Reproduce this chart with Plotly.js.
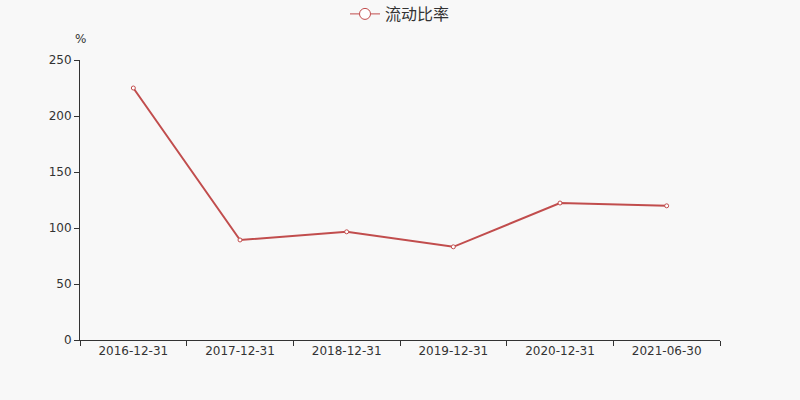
<!DOCTYPE html>
<html>
<head>
<meta charset="utf-8">
<script src="https://cdn.plot.ly/plotly-3.0.1.min.js"></script>
<style>
  html, body { margin: 0; padding: 0; background: #f8f8f8; }
  #chart { width: 800px; height: 400px; }
</style>
</head>
<body>
<div id="chart"></div>
<script>
// report dates and current ratio (%)
var dates = ['2016-12-31', '2017-12-31', '2018-12-31', '2019-12-31', '2020-12-31', '2021-06-30'];
var currentRatio = [225.0, 89.3, 96.6, 83.2, 122.3, 119.8];
var seriesName = '流动比率';

var lineColor = '#c14d4d';

var trace = {
  x: dates,
  y: currentRatio,
  name: seriesName,
  type: 'scatter',
  mode: 'lines+markers',
  showlegend: false,
  line: {color: lineColor, width: 2},
  marker: {symbol: 'circle', size: 4, color: '#ffffff', line: {color: lineColor, width: 1}}
};

// legend entry only, with a bigger hollow circle like the original
var legendTrace = {
  x: [null],
  y: [null],
  name: seriesName,
  type: 'scatter',
  mode: 'lines+markers',
  line: {color: lineColor, width: 1},
  marker: {symbol: 'circle', size: 11, color: '#ffffff', line: {color: lineColor, width: 1}}
};

var axisFont = {family: 'DejaVu Sans, sans-serif', size: 12, color: '#333'};

var layout = {
  width: 800,
  height: 400,
  paper_bgcolor: '#f8f8f8',
  plot_bgcolor: '#f8f8f8',
  margin: {l: 80, r: 80, t: 60, b: 60},
  font: axisFont,
  showlegend: true,
  legend: {
    orientation: 'h',
    x: 0.5, xanchor: 'center',
    xref: 'container',
    y: 0.965, yanchor: 'middle',
    yref: 'container',
    font: {family: 'Noto Sans CJK SC, DejaVu Sans', size: 16, color: '#333'},
    bgcolor: 'rgba(0,0,0,0)'
  },
  xaxis: {
    type: 'category',
    range: [-0.5, 5.5],
    tickson: 'boundaries',
    ticks: 'outside',
    ticklen: 5,
    tickcolor: '#333',
    showline: true,
    linecolor: '#333',
    linewidth: 1,
    showgrid: false,
    zeroline: false,
    tickfont: axisFont,
    fixedrange: true
  },
  yaxis: {
    range: [0, 250],
    dtick: 50,
    ticks: 'outside',
    ticklen: 5,
    tickcolor: '#333',
    showline: true,
    linecolor: '#333',
    linewidth: 1,
    showgrid: false,
    zeroline: false,
    tickfont: axisFont,
    fixedrange: true
  },
  annotations: [{
    text: '%',
    xref: 'paper', yref: 'paper',
    x: 0, y: 1,
    xanchor: 'center', yanchor: 'bottom',
    yshift: 12,
    showarrow: false,
    font: {family: 'DejaVu Sans', size: 12, color: '#333'}
  }]
};

Plotly.newPlot('chart', [trace, legendTrace], layout, {displayModeBar: false, staticPlot: true});
</script>
</body>
</html>
